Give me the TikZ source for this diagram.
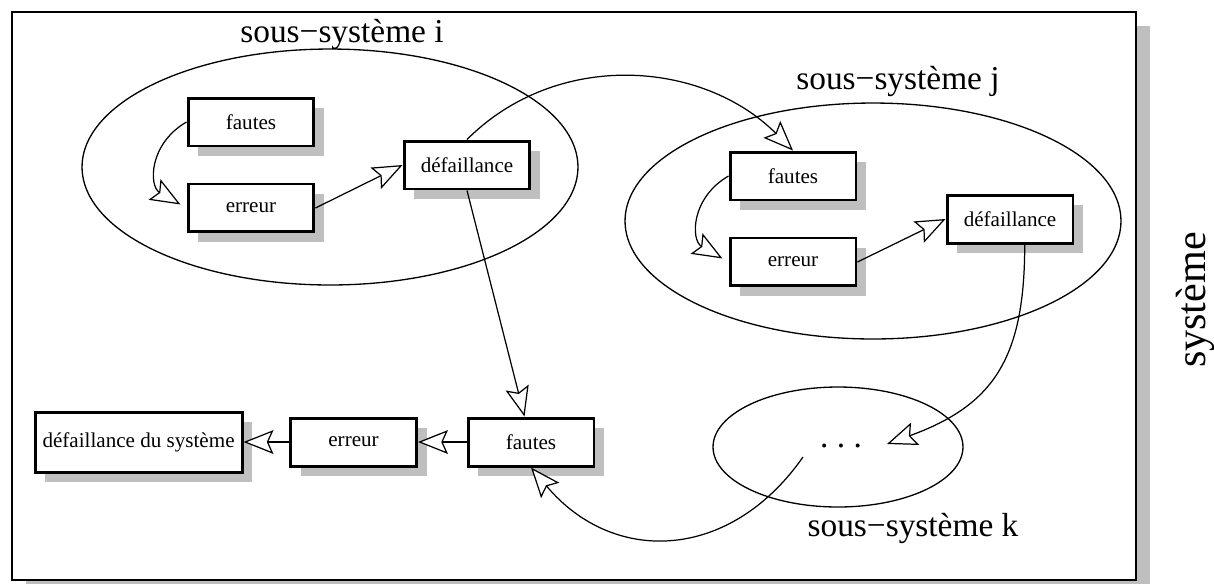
\documentclass[tikz,border=0pt]{standalone}
\usepackage{fontspec}
\setmainfont{Liberation Serif}
\usepackage{tikz}
\usetikzlibrary{positioning,arrows.meta,calc,shapes.geometric,shadows}
\definecolor{shadowgray}{gray}{0.75}
\tikzset{
    on grid,
    node distance=1.72cm,
    auto,
    block/.style = {
        draw,
        shape=rectangle,
        fill=white,
        minimum height=0.96cm,
        minimum width=2.52cm,
        line width=1.7pt,
        font=\fontsize{12}{14}\selectfont,
        drop shadow={shadow xshift=0.2cm, shadow yshift=-0.2cm, fill=shadowgray, opacity=1}
    },
    bigblock/.style = {
        block,
        minimum height=1.2cm,
        minimum width=4.14cm
    },
    subsys/.style = {
        draw,
        shape=ellipse,
        inner sep=0pt,
        line width=0.75pt
    },
    title/.style = {
        font=\fontsize{19}{23}\selectfont
    },
    >={Stealth[length=17pt, width=13.5pt, inset=3pt, fill=white]},
}

\begin{document}
\begin{tikzpicture}[x=0.02cm, y=-0.02cm, line width=0.7pt]
        \useasboundingbox (0,0) rectangle (1214,583);
        \path[draw, fill=white, line width=0.9pt, drop shadow={shadow xshift=0.28cm, shadow yshift=-0.28cm, fill=shadowgray, opacity=1}] (12,12) rectangle (1136,580);

        \node[subsys, minimum width=9.92cm, minimum height=4.72cm] (ssi) at (330,167) {};
        \node[subsys, minimum width=9.92cm, minimum height=4.72cm] (ssj) at (873,221) {};
        \node[subsys, minimum width=5cm, minimum height=2.4cm] (ssk) at (838,447) {};
        \node[title] (titlei) at (342,34) {sous−système i};
        \node[title] (titlej) at (898,81) {sous−système j};
        \node[title] (titlek) at (913,528) {sous−système k};
        \node[title] (dots) at (841,446) {.\ .\ .};
        \node[rotate=90, inner sep=0pt, font=\fontsize{24}{28}\selectfont] (sys) at (1195,300) {système};

        \node[block] (fautesi) at (251,122) {fautes};
        \node[block, below of=fautesi] (erreuri) {erreur};
        \node[block] (defi) at (467,165) {défaillance};

        \node[block] (fautesj) at (793,176) {fautes};
        \node[block, below of=fautesj] (erreurj) {erreur};
        \node[block] (defj) at (1010,219) {défaillance};

        \node[block] (fautes) at (531,442) {fautes};
        \node[block, left=3.55cm of fautes] (erreur) {erreur};
        \node[bigblock, left=4.3cm of erreur] (defsys) {défaillance du système};

        \coordinate (kin) at (887,444);
        \coordinate (kout) at (803,457);

        \path[draw, ->, shorten >=4pt] (fautesi.west) to[out=210, in=150, looseness=1.3] (erreuri.west);
        \path[draw, ->] (erreuri.east) -- (defi.west);
        \path[draw, ->] (defi.north) to[out=45, in=135] (fautesj.north);
        \path[draw, ->] (defi.south) -- (fautes);

        \path[draw, ->, shorten >=4pt] (fautesj.west) to[out=210, in=150, looseness=1.3] (erreurj.west);
        \path[draw, ->] (erreurj.east) -- (defj.west);
        \path[draw, ->] (defj.-60) to[out=-90, in=20, looseness=1.2] (kin);

        \path[draw, ->] (kout) to[out=235, in=-50, looseness=1.2] (fautes.south);
        \path[draw, ->] (fautes) -- (erreur);
        \path[draw, ->] (erreur) -- (defsys);
    \end{tikzpicture}
\end{document}
